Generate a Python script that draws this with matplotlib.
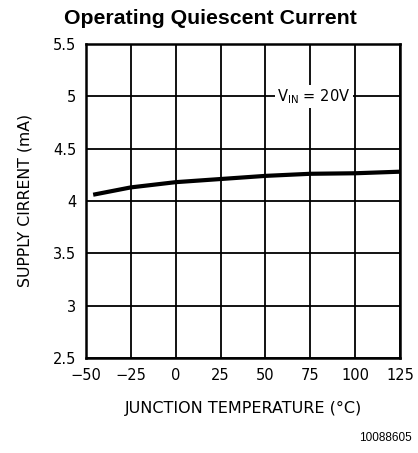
import matplotlib
matplotlib.use("Agg")
import matplotlib.pyplot as plt

temps = [-46, -25, 0, 25, 50, 75, 100, 125]
current = [4.06, 4.13, 4.18, 4.21, 4.24, 4.26, 4.265, 4.28]
xticks = [-50, -25, 0, 25, 50, 75, 100, 125]
yticks = [2.5, 3, 3.5, 4, 4.5, 5, 5.5]
ytick_labels = ["2.5", "3", "3.5", "4", "4.5", "5", "5.5"]

fig = plt.figure(figsize=(4.18, 4.53), dpi=100)
ax = fig.add_axes([86/418, 1-358/453, 314/418, 314/453])
ax.plot(temps, current, color="black", lw=3, solid_capstyle="butt")
ax.set_xlim(-50, 125)
ax.set_ylim(2.5, 5.5)
ax.set_xticks(xticks)
ax.set_yticks(yticks)
ax.set_yticklabels(ytick_labels)
ax.grid(True, color="black", lw=1.3)
ax.tick_params(length=0, labelsize=10.5, pad=7)
for s in ax.spines.values():
    s.set_linewidth(1.8)
ax.set_axisbelow(True)

ax.text(77, 5.0, r"V$_{\mathregular{IN}}$ = 20V", ha="center", va="center",
        fontsize=10.5, bbox=dict(facecolor="white", edgecolor="none", pad=1.5))

fig.text(210/418, 1-18/453, "Operating Quiescent Current", ha="center", va="center",
         fontsize=15.3, fontweight="bold", family="Liberation Sans")
fig.text(25/418, 1-200/453, "SUPPLY CIRRENT (mA)", rotation=90, ha="center", va="center",
         fontsize=11.3)
fig.text(243/418, 1-408/453, "JUNCTION TEMPERATURE (°C)", ha="center", va="center",
         fontsize=11.5)
fig.text(412/418, 1-438/453, "10088605", ha="right", va="center", fontsize=8.5,
         family="Liberation Sans")
fig.savefig("out.png", dpi=100)
